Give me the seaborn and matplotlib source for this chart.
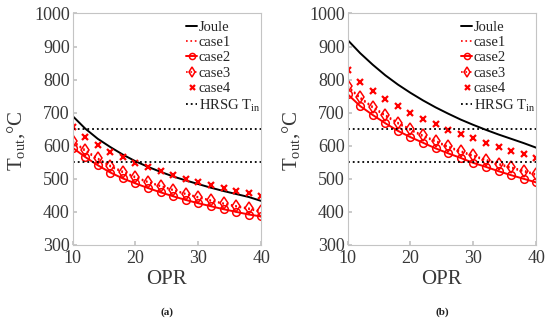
import numpy as np
import pandas as pd
import matplotlib
matplotlib.use("Agg")
import matplotlib.pyplot as plt
import seaborn as sns

# OPR grid shared by every curve
opr = [10, 12, 14, 16, 18, 20, 22, 24, 26, 28, 30, 32, 34, 36, 38, 40]

# panel (a)
joule_a = [690, 652, 621, 596, 573, 553, 536, 521, 507, 495, 484, 473, 463, 454, 445, 433]
case1_a = [612, 584, 559, 537, 519, 503, 489, 477, 465, 453, 443, 433, 424, 416, 408, 400]
case2_a = [594, 566, 541, 519, 501, 486, 472, 459, 447, 436, 426, 417, 408, 400, 392, 386]
case3_a = [615, 587, 562, 540, 522, 506, 491, 479, 467, 455, 445, 435, 426, 418, 411, 403]
case4_a = [656, 627, 602, 582, 566, 549, 537, 524, 511, 500, 491, 482, 472, 464, 456, 449]

# panel (b)
joule_b = [920, 880, 845, 813, 785, 760, 737, 716, 697, 679, 663, 648, 634, 621, 608, 594]
case1_b = [778, 743, 715, 690, 667, 647, 628, 612, 595, 581, 568, 555, 543, 532, 522, 511]
case2_b = [756, 720, 693, 668, 645, 626, 609, 592, 577, 563, 548, 536, 523, 511, 500, 489]
case3_b = [781, 746, 718, 693, 670, 650, 631, 615, 598, 584, 571, 558, 546, 535, 525, 514]
case4_b = [828, 794, 765, 740, 719, 700, 682, 665, 648, 634, 622, 609, 597, 585, 574, 564]

# HRSG inlet temperature limits
hrsg = [650, 550]

sns.set_theme(style="ticks", rc={
    "axes.edgecolor": "#c4c4c4",
    "axes.linewidth": 0.8,
    "xtick.direction": "in",
    "ytick.direction": "in",
    "xtick.color": "#c4c4c4",
    "ytick.color": "#c4c4c4",
    "xtick.labelcolor": "#383838",
    "ytick.labelcolor": "#383838",
    "xtick.major.size": 3,
    "ytick.major.size": 3,
})
plt.rcParams["font.family"] = ["Liberation Serif", "DejaVu Serif"]
plt.rcParams["mathtext.fontset"] = "custom"
plt.rcParams["mathtext.rm"] = "Liberation Serif"
plt.rcParams["mathtext.it"] = "Liberation Serif:italic"

fig = plt.figure(figsize=(5.5, 3.21), dpi=100)
ax_a = fig.add_axes([0.132, 0.237, 0.343, 0.721])
ax_b = fig.add_axes([0.632, 0.237, 0.343, 0.721])

panels = [
    (ax_a, joule_a, case1_a, case2_a, case3_a, case4_a, "(a)"),
    (ax_b, joule_b, case1_b, case2_b, case3_b, case4_b, "(b)"),
]

for ax, joule, c1, c2, c3, c4, tag in panels:
    sns.lineplot(x=opr, y=joule, ax=ax, color="black", lw=1.4, label="Joule")
    sns.lineplot(x=opr, y=c1, ax=ax, color="red", lw=1.2, linestyle=":", label="case1")
    sns.lineplot(x=opr, y=c2, ax=ax, color="red", lw=1.4, marker="o", ms=5.5,
                 markerfacecolor="none", markeredgecolor="red", mew=1.1, label="case2")
    sns.lineplot(x=opr, y=c3, ax=ax, color="red", lw=1.2, linestyle=":", marker="d",
                 ms=6, markerfacecolor="none", markeredgecolor="red", mew=1.1,
                 label="case3")
    sns.lineplot(x=opr, y=c4, ax=ax, color="red", lw=0, marker="x", ms=4.5, mew=1.6,
                 markeredgecolor="red", label="case4")
    for i, h in enumerate(hrsg):
        sns.lineplot(x=[opr[0], opr[-1]], y=[h, h], ax=ax, color="black", lw=1.3,
                     linestyle=":", label="HRSG T$_{\\rm in}$" if i == 0 else None)

    ax.set_xlim(10, 40)
    ax.set_ylim(300, 1000)
    ax.set_xticks([10, 20, 30, 40])
    ax.set_yticks(range(300, 1001, 100))
    ax.tick_params(labelsize=13)
    ax.tick_params(axis="x", pad=4)
    ax.tick_params(axis="y", pad=2)
    for s in ax.spines.values():
        s.set_visible(True)

    ax.set_xlabel("OPR", fontsize=15, color="#383838")
    ax.xaxis.set_label_coords(0.5, -0.11)
    ax.set_ylabel("T$_{\\rm out}$,°C", fontsize=15, color="#383838")
    ax.yaxis.set_label_coords(-0.24, 0.45)

    ax.legend(loc="upper left", bbox_to_anchor=(0.6, 0.97), frameon=False,
              fontsize=10.5, handlelength=0.8, handletextpad=0.1,
              labelspacing=0.15, borderpad=0, borderaxespad=0, markerscale=0.8)

    ax.text(0.5, -0.29, tag, transform=ax.transAxes, ha="center", va="center",
            fontsize=8, fontweight="bold", color="#222222")

fig.savefig("out.png", dpi=100)
